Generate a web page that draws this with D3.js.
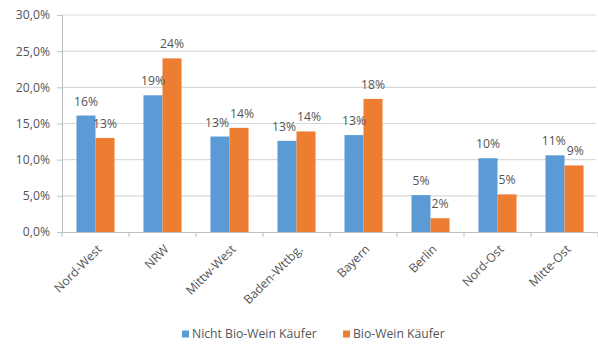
<!DOCTYPE html>
<html>
<head>
<meta charset="utf-8">
<script src="https://cdn.jsdelivr.net/npm/d3@7"></script>
<style>
  html, body { margin: 0; padding: 0; background: #fff; }
  svg text { font-family: "Open Sans", "Liberation Sans", sans-serif; fill: #555; }
</style>
</head>
<body>
<svg id="chart" width="598" height="347"></svg>
<script>
// Regions and the share of buyers (in %) per group
const regions = ["Nord-West", "NRW", "Mittw-West", "Baden-Wttbg.", "Bayern", "Berlin", "Nord-Ost", "Mitte-Ost"];
const seriesNames = ["Nicht Bio-Wein Käufer", "Bio-Wein Käufer"];
const nichtBio = [16.1, 18.9, 13.2, 12.6, 13.4, 5.1, 10.2, 10.6];
const bio = [13.0, 24.0, 14.4, 13.9, 18.4, 1.9, 5.2, 9.2];
const yTicks = [0, 5, 10, 15, 20, 25, 30];
const colors = ["#5B9BD5", "#ED7D31"];

const svg = d3.select("#chart");
const margin = { left: 62, right: 0, top: 15, bottom: 115 };
const W = 598, H = 347;
const fontSize = "12.2px";

const de = d3.formatLocale({ decimal: ",", thousands: ".", grouping: [3], currency: ["", " €"] });
const tickFmt = v => de.format(".1f")(v) + "%";

const x0 = d3.scaleBand().domain(regions).range([margin.left, W - margin.right]).paddingInner(0).paddingOuter(0);
const x1 = d3.scaleBand().domain(seriesNames).range([0, x0.bandwidth()]).paddingInner(0).paddingOuter(0.76);
const y = d3.scaleLinear().domain([0, 30]).range([H - margin.bottom, margin.top]);

// Horizontal gridlines
svg.append("g")
  .selectAll("line")
  .data(yTicks.filter(t => t > 0))
  .join("line")
  .attr("x1", margin.left).attr("x2", W - margin.right - 2)
  .attr("y1", d => y(d)).attr("y2", d => y(d))
  .attr("stroke", "#D9D9D9").attr("stroke-width", 1.2);

// Y axis
const yAxis = svg.append("g")
  .attr("transform", `translate(${margin.left},0)`)
  .call(d3.axisLeft(y).tickValues(yTicks).tickFormat(tickFmt).tickSize(5).tickPadding(7));
yAxis.select(".domain").attr("stroke", "#BFBFBF");
yAxis.selectAll(".tick line").attr("stroke", "#BFBFBF");
yAxis.selectAll("text").attr("font-size", fontSize).style("fill", "#555");

// Bars
const rows = regions.map((r, i) => ({ region: r, values: [nichtBio[i], bio[i]] }));
const groups = svg.append("g").selectAll("g")
  .data(rows).join("g")
  .attr("transform", d => `translate(${x0(d.region)},0)`);

groups.selectAll("rect")
  .data(d => d.values.map((v, k) => ({ name: seriesNames[k], v, k })))
  .join("rect")
  .attr("x", d => x1(d.name))
  .attr("width", x1.bandwidth())
  .attr("y", d => y(d.v))
  .attr("height", d => y(0) - y(d.v))
  .attr("fill", d => colors[d.k]);

// Value labels, placed above each bar
groups.each(function () {
  const g = d3.select(this);
  const labels = g.selectAll("text.val")
    .data(d => d.values.map((v, k) => ({ name: seriesNames[k], v, k })))
    .join("text")
    .attr("class", "val")
    .attr("x", d => x1(d.name) + x1.bandwidth() / 2)
    .attr("y", d => y(d.v) - 10)
    .attr("text-anchor", "middle")
    .attr("font-size", fontSize)
    .text(d => Math.round(d.v) + "%");

  // push the two labels of a group apart when they collide
  const nodes = labels.nodes();
  const a = nodes[0], b = nodes[1];
  const ya = +a.getAttribute("y"), yb = +b.getAttribute("y");
  const xa = +a.getAttribute("x"), xb = +b.getAttribute("x");
  const wa = a.getComputedTextLength(), wb = b.getComputedTextLength();
  const need = (wa + wb) / 2 + 1;
  if (Math.abs(ya - yb) < 12 && xb - xa < need) {
    const shift = (need - (xb - xa)) / 2;
    a.setAttribute("x", xa - shift);
    b.setAttribute("x", xb + shift);
  }
});

// X axis
const xAxis = svg.append("g")
  .attr("transform", `translate(0,${y(0)})`)
  .call(d3.axisBottom(x0).tickSize(0).tickFormat(""));
xAxis.select(".domain").attr("stroke", "#BFBFBF");
// boundary ticks between categories
svg.append("g").selectAll("line")
  .data(regions.map(r => x0(r)).concat([x0(regions[regions.length - 1]) + x0.bandwidth()]))
  .join("line")
  .attr("x1", d => d).attr("x2", d => d)
  .attr("y1", y(0)).attr("y2", y(0) + 5)
  .attr("stroke", "#BFBFBF");

svg.append("g").selectAll("text")
  .data(regions).join("text")
  .attr("transform", d => `translate(${x0(d) + x0.bandwidth() / 2 + 4},${y(0) + 15}) rotate(-45)`)
  .attr("text-anchor", "end")
  .attr("dy", "0.35em")
  .attr("font-size", fontSize)
  .text(d => d);

// Legend
const legendItems = [{ name: seriesNames[0], x: 182 }, { name: seriesNames[1], x: 343 }];
const lg = svg.append("g").selectAll("g")
  .data(legendItems).join("g")
  .attr("transform", d => `translate(${d.x},334)`);
lg.append("rect").attr("x", 0).attr("y", -3.5).attr("width", 7).attr("height", 7)
  .attr("fill", (d, i) => colors[i]);
lg.append("text").attr("x", 10).attr("y", 0).attr("dy", "0.35em")
  .attr("font-size", fontSize).text(d => d.name);
</script>
</body>
</html>
